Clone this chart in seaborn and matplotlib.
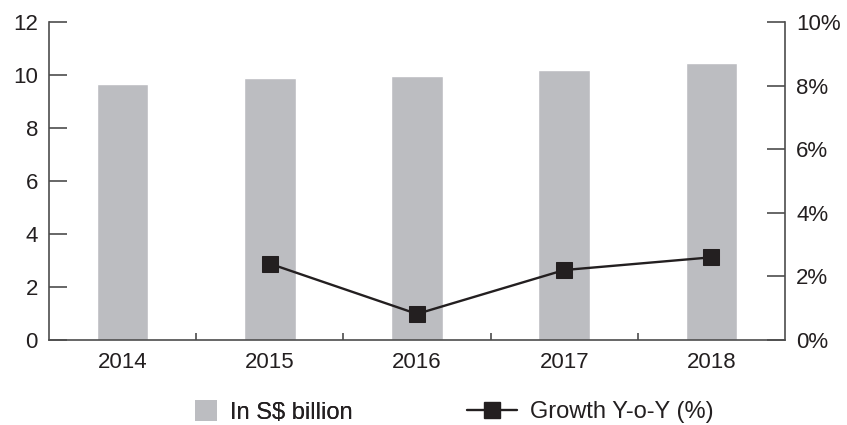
import matplotlib
matplotlib.use("Agg")
import matplotlib.pyplot as plt
import seaborn as sns
import numpy as np
import pandas as pd
from matplotlib.ticker import FuncFormatter, FixedLocator
from matplotlib.lines import Line2D
from matplotlib.patches import Patch

years = ["2014", "2015", "2016", "2017", "2018"]
billions = [9.66, 9.88, 9.96, 10.19, 10.45]
growth_years = ["2015", "2016", "2017", "2018"]
growth_pct = [2.4, 0.82, 2.2, 2.6]

sns.set_theme(style="white")
plt.rcParams['font.family'] = ['Liberation Sans', 'DejaVu Sans']

BAR = "#bcbdc1"
DARK = "#231f20"
SPINE = "#4d4d4d"
FS = 16
LFS = 17

fig = plt.figure(figsize=(8.47, 4.25), dpi=100)
ax = fig.add_axes([49/847, 85/425, (785-49)/847, (340-22)/425])

df = pd.DataFrame({"year": years, "value": billions})
sns.barplot(data=df, x="year", y="value", color=BAR, width=0.35, ax=ax,
            saturation=1, order=years)
ax.set_xlim(-0.5, 4.5)
ax.set_ylim(0, 12)
ax.set_yticks(range(0, 13, 2))
ax.set_xlabel("")
ax.set_ylabel("")

ax2 = ax.twinx()
gdf = pd.DataFrame({"pos": [years.index(y) for y in growth_years], "g": growth_pct})
sns.lineplot(data=gdf, x="pos", y="g", ax=ax2, color=DARK, linewidth=1.7,
             marker="s", markersize=12, markeredgecolor=DARK, markerfacecolor=DARK)
ax2.set_ylim(0, 10)
ax2.set_yticks(range(0, 11, 2))
ax2.yaxis.set_major_formatter(FuncFormatter(lambda v, p: f"{int(v)}%"))
ax2.set_xlim(-0.5, 4.5)
ax2.set_xlabel("")
ax2.set_ylabel("")

for a in (ax, ax2):
    for s in a.spines.values():
        s.set_color(SPINE)
        s.set_linewidth(1.2)
    a.spines["top"].set_visible(False)

ax2.spines["left"].set_visible(False)
ax2.spines["bottom"].set_visible(False)
ax.spines["right"].set_visible(False)

ax.tick_params(axis="y", direction="in", length=13, width=1.2, color=SPINE,
               labelsize=FS, labelcolor=DARK, pad=8, left=True)
ax2.tick_params(axis="y", direction="in", length=13, width=1.2, color=SPINE,
                labelsize=FS, labelcolor=DARK, pad=8, right=True)
ax.tick_params(axis="x", which="major", length=0, labelsize=FS,
               labelcolor=DARK, pad=9)
ax.xaxis.set_minor_locator(FixedLocator([0.5, 1.5, 2.5, 3.5]))
ax.tick_params(axis="x", which="minor", direction="in", length=5, width=1.2,
               color=SPINE, bottom=True)

ly = 1 - 412/425
leg1 = fig.legend([Patch(facecolor=BAR, edgecolor="none")], ["In S$ billion"],
                  loc="center left", bbox_to_anchor=(195/847, ly), frameon=False,
                  fontsize=LFS, handlelength=0.95, handleheight=0.95,
                  handletextpad=0.55, borderpad=0, borderaxespad=0,
                  labelcolor=DARK)
leg2 = fig.legend([Line2D([0], [0], color=DARK, linewidth=1.7, marker="s",
                          markersize=12, markerfacecolor=DARK, markeredgecolor=DARK)],
                  ["Growth Y-o-Y (%)"],
                  loc="center left", bbox_to_anchor=(467/847, ly), frameon=False,
                  fontsize=LFS, handlelength=2.1, handletextpad=0.55,
                  borderpad=0, borderaxespad=0, labelcolor=DARK)
fig.add_artist(leg1)

fig.savefig("out.png", dpi=100)
